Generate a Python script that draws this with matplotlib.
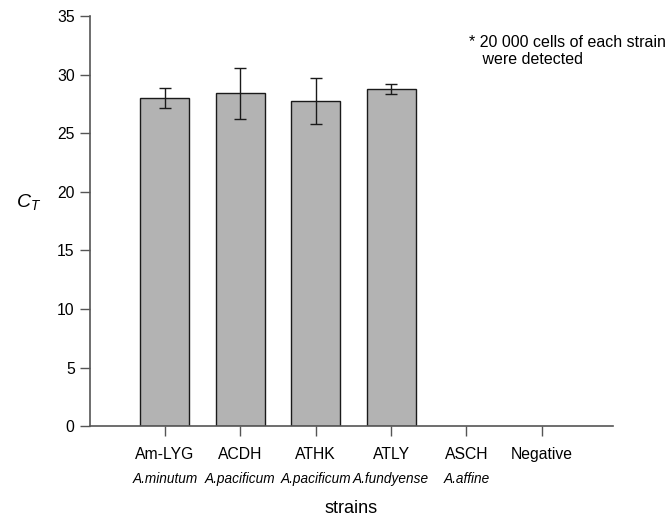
# CT values of each strain (bar chart with error bars)
import numpy as np
import matplotlib
matplotlib.use('Agg')
import matplotlib.pyplot as plt

plt.rcParams['font.family'] = ['Liberation Sans', 'DejaVu Sans']
plt.rcParams['mathtext.fontset'] = 'custom'
plt.rcParams['mathtext.it'] = 'Liberation Sans:italic'
plt.rcParams['mathtext.rm'] = 'Liberation Sans'

# Data
strains = ['Am-LYG', 'ACDH', 'ATHK', 'ATLY', 'ASCH', 'Negative']
species = ['A.minutum', 'A.pacificum', 'A.pacificum', 'A.fundyense', 'A.affine', '']
ct_mean = [28.0, 28.4, 27.75, 28.8, 0, 0]
ct_err = [0.84, 2.2, 2.0, 0.43, 0, 0]

x = np.arange(len(strains))
n_bars = 4  # ASCH and Negative gave no signal

fig = plt.figure(figsize=(6.66, 5.19), dpi=100)
ax = fig.add_axes([0.135, 0.179, 0.785, 0.79])

ax.bar(x[:n_bars], ct_mean[:n_bars], width=0.65, color='#b3b3b3',
       edgecolor='#1a1a1a', linewidth=1.0, zorder=2)
ax.errorbar(x[:n_bars], ct_mean[:n_bars], yerr=ct_err[:n_bars], fmt='none',
            ecolor='#1a1a1a', elinewidth=1.0, capsize=4.6, capthick=1.0, zorder=3)

ax.set_xlim(-0.995, 5.94)
ax.set_ylim(0, 35)
ax.set_yticks(np.arange(0, 36, 5))
ax.set_xticks(x)
ax.set_xticklabels(strains, fontsize=11)
ax.tick_params(axis='both', direction='out', length=7, width=1, color='#555555',
               labelsize=11.3, pad=4)
ax.tick_params(axis='x', pad=8)
for side in ['top', 'right']:
    ax.spines[side].set_visible(False)
for side in ['left', 'bottom']:
    ax.spines[side].set_color('#555555')
    ax.spines[side].set_linewidth(1.2)

# species names in italics under the strain labels
for xi, sp in zip(x, species):
    ax.annotate(sp, xy=(xi, 0), xycoords=('data', 'axes fraction'),
                xytext=(0, -53), textcoords='offset pixels',
                ha='center', va='center', fontsize=9.8, style='italic')

ax.text(0.5, -0.2, 'strains', transform=ax.transAxes, ha='center', va='center',
        fontsize=13)
fig.text(0.043, 0.61, '$C_T$', ha='center', va='center', fontsize=14)

ax.text(0.726, 0.953, '* 20 000 cells of each strain\n   were detected',
        transform=ax.transAxes, ha='left', va='top', fontsize=11.5, linespacing=1.1)

fig.savefig('out.png', dpi=100)
